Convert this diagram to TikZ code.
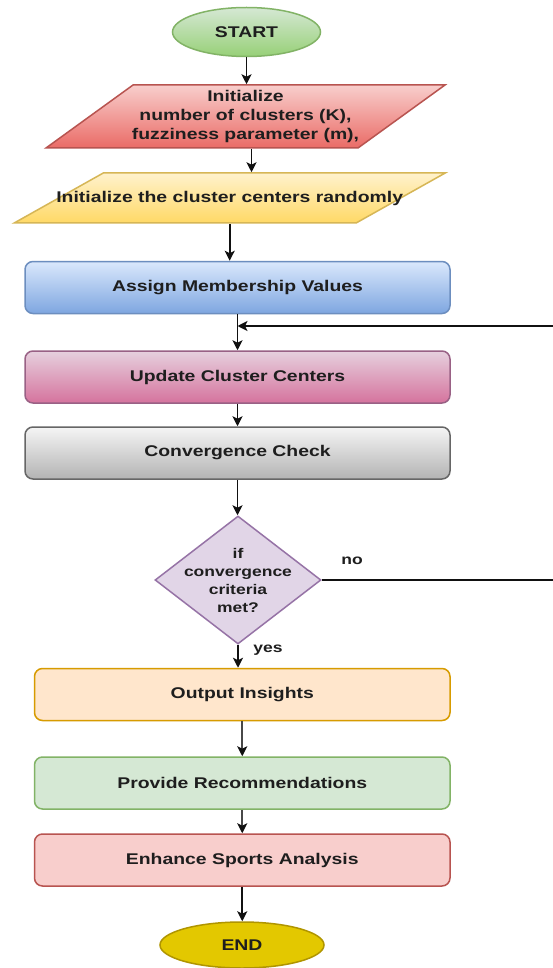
\documentclass[tikz,border=0pt]{standalone}
\usepackage{fontspec}
\setmainfont{Liberation Sans}[FakeStretch=1.25]
\usetikzlibrary{shapes.geometric,arrows.meta}

\definecolor{txt}{HTML}{1E1E1E}
\definecolor{linec}{HTML}{111111}
\definecolor{greyline}{HTML}{484848}
% fills and borders
\definecolor{startA}{HTML}{D5E8D4}\definecolor{startB}{HTML}{97D077}\definecolor{startD}{HTML}{82B366}
\definecolor{redA}{HTML}{F8CECC}\definecolor{redB}{HTML}{EA6B66}\definecolor{redD}{HTML}{B85450}
\definecolor{yelA}{HTML}{FFF2CC}\definecolor{yelB}{HTML}{FFD966}\definecolor{yelD}{HTML}{D6B656}
\definecolor{bluA}{HTML}{DAE8FC}\definecolor{bluB}{HTML}{7EA6E0}\definecolor{bluD}{HTML}{6C8EBF}
\definecolor{pnkA}{HTML}{E6D0DE}\definecolor{pnkB}{HTML}{D5739D}\definecolor{pnkD}{HTML}{996185}
\definecolor{gryA}{HTML}{F5F5F5}\definecolor{gryB}{HTML}{B3B3B3}\definecolor{gryD}{HTML}{666666}
\definecolor{purF}{HTML}{E1D5E7}\definecolor{purD}{HTML}{9673A6}
\definecolor{orgF}{HTML}{FFE6CC}\definecolor{orgD}{HTML}{D79B00}
\definecolor{grnF}{HTML}{D5E8D4}\definecolor{grnD}{HTML}{82B366}
\definecolor{rosF}{HTML}{F8CECC}\definecolor{rosD}{HTML}{B85450}
\definecolor{endF}{HTML}{E3C800}\definecolor{endD}{HTML}{B09500}

\newcommand{\boxfont}{\fontsize{15.5}{19}\selectfont\bfseries}
\newcommand{\qfont}{\fontsize{14}{18}\selectfont\bfseries}

\begin{document}
\begin{tikzpicture}[x=1pt,y=-1pt,
  every node/.style={text=txt},
  shape base/.style={draw, line width=1.5pt, inner sep=0pt},
  box/.style={shape base, rectangle, rounded corners=8pt, minimum width=425pt,
    minimum height=52pt, font=\boxfont},
  lowbox/.style={box, minimum width=415.5pt},
  terminal/.style={shape base, ellipse, font=\boxfont},
  % parallelogram: the height comes from inner ysep, the width from the body
  slanted/.style={shape base, trapezium, trapezium stretches body,
    label={[font=\boxfont, align=center, text=txt]center:#1}},
  arr/.style={draw=linec, line width=1.8pt,
    -{Stealth[length=10pt,width=10pt,inset=2.5pt,color=linec]}},
  lbl/.style={font=\qfont, inner sep=0pt}
]
\useasboundingbox[fill=white] (0,0) rectangle (552,968);

% start / input steps
\node[terminal, draw=startD, top color=startA, bottom color=startB,
      minimum width=148pt, minimum height=49pt] (start) at (246.5,32) {START};

\node[slanted={Initialize\\number of clusters (K),\\fuzziness parameter (m),},
      draw=redD, top color=redA, bottom color=redB,
      trapezium left angle=35.9, trapezium right angle=144.1,
      inner ysep=31.5pt, minimum width=399pt] (init) at (245.5,116.5) {};

\node[slanted={Initialize the cluster centers randomly},
      draw=yelD, top color=yelA, bottom color=yelB,
      trapezium left angle=29.3, trapezium right angle=150.7,
      inner ysep=25pt, minimum width=431pt] (seed) at (229.7,198) {};

% iteration
\node[box, draw=bluD, top color=bluA, bottom color=bluB] (assign) at (237.5,287.5) {Assign Membership Values};
\node[box, draw=pnkD, top color=pnkA, bottom color=pnkB] (update) at (237.5,377) {Update Cluster Centers};
\node[box, draw=gryD, top color=gryA, bottom color=gryB] (conv) at (237.5,453) {Convergence Check};

\node[shape base, diamond, draw=purD, fill=purF, minimum width=166pt, minimum height=128pt,
      label={[font=\qfont, align=center, text=txt]center:if\\convergence\\criteria\\met?}]
      (check) at (238,580) {};

% results
\node[lowbox, draw=orgD, fill=orgF] (output) at (242.25,694.5) {Output Insights};
\node[lowbox, draw=grnD, fill=grnF] (recom) at (242.25,783) {Provide Recommendations};
\node[lowbox, draw=rosD, fill=rosF] (enhance) at (242.25,860) {Enhance Sports Analysis};
\node[terminal, draw=endD, fill=endF, minimum width=164pt, minimum height=46pt] (finish) at (242,945) {END};

% connectors
\draw[arr] (start) -- (start |- init.north);
\draw[arr] ([xshift=6pt]init.south) -- ([xshift=6pt]init.south |- seed.north);
\draw[arr] (seed.south) -- (seed.south |- assign.north);
\coordinate (merge) at (assign.south |- 0,326);
\draw[arr] (assign) -- (assign.south |- update.north);
\draw[arr] (update) -- (update.south |- conv.north);
\draw[arr] (conv) -- (conv.south |- check.north);
\coordinate (loopturn) at (560,450);
\draw[arr] (check.east) -| (loopturn) |- (merge);
\draw[arr] (check.south) -- (check.south |- output.north);
\draw[arr, draw=greyline] (output) -- (output.south |- recom.north);
\draw[arr, draw=greyline] (recom) -- (recom.south |- enhance.north);
\draw[arr, line width=2.4pt] (enhance) -- (enhance.south |- finish.north);

\node[lbl] (nolbl) at (352,561) {no};
\node[lbl] (yeslbl) at (268,650) {yes};
\end{tikzpicture}
\end{document}
